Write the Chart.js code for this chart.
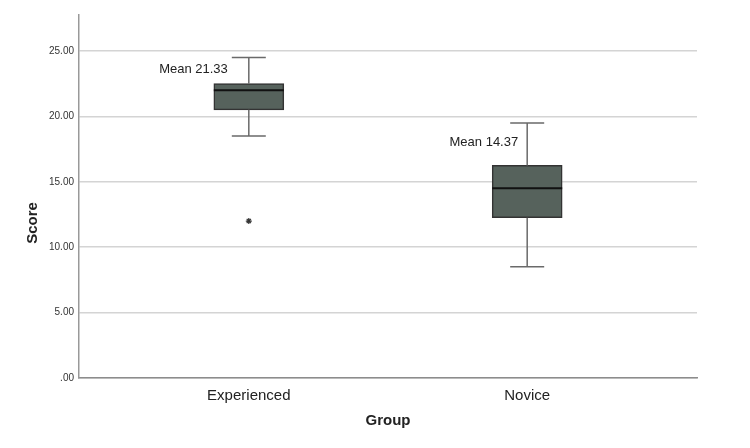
<!DOCTYPE html>
<html lang="en">
<head>
  <meta charset="UTF-8" />
  <title>Score by Group</title>
  <script src="https://cdn.jsdelivr.net/npm/chart.js"></script>
  <style>
    html, body { margin: 0; padding: 0; background: #fff; }
    #wrap { width: 750px; height: 448px; }
  </style>
</head>
<body>
  <div id="wrap"><canvas id="boxChart"></canvas></div>
  <script>
    // data
    const groups = ['Experienced', 'Novice'];
    const whiskerLow = [18.5, 8.5];
    const q1 = [20.5, 12.25];
    const medians = [22.0, 14.5];
    const q3 = [22.5, 16.25];
    const whiskerHigh = [24.5, 19.5];
    const means = [21.33, 14.37];
    const outliers = [{ group: 0, value: 12.0 }];
    const yTicks = [0, 5, 10, 15, 20, 25];

    const FONT = "'Liberation Sans', Arial, sans-serif";

    // whiskers, medians, mean labels and the y title
    const boxExtras = {
      id: 'boxExtras',
      afterDatasetsDraw(chart) {
        const ctx = chart.ctx;
        const xs = chart.scales.x, ys = chart.scales.y;
        const half = 35, cap = 17;
        const labelDx = [-21, -9], labelDy = [12, 20];
        ctx.save();
        groups.forEach((g, i) => {
          const cx = xs.getPixelForValue(i + 1);
          const yHi = ys.getPixelForValue(whiskerHigh[i]);
          const yLo = ys.getPixelForValue(whiskerLow[i]);
          const yQ1 = ys.getPixelForValue(q1[i]);
          const yQ3 = ys.getPixelForValue(q3[i]);
          const yMed = ys.getPixelForValue(medians[i]);

          ctx.strokeStyle = '#6a6a6a';
          ctx.lineWidth = 1.5;
          ctx.beginPath();
          ctx.moveTo(cx, yQ3); ctx.lineTo(cx, yHi);
          ctx.moveTo(cx - cap, yHi); ctx.lineTo(cx + cap, yHi);
          ctx.moveTo(cx, yQ1); ctx.lineTo(cx, yLo);
          ctx.moveTo(cx - cap, yLo); ctx.lineTo(cx + cap, yLo);
          ctx.stroke();

          ctx.strokeStyle = '#111';
          ctx.lineWidth = 2;
          ctx.beginPath();
          ctx.moveTo(cx - half, yMed); ctx.lineTo(cx + half, yMed);
          ctx.stroke();

          ctx.fillStyle = '#222';
          ctx.font = '13px ' + FONT;
          ctx.textAlign = 'right';
          ctx.textBaseline = 'middle';
          ctx.fillText('Mean ' + means[i].toFixed(2), cx + labelDx[i], yHi + labelDy[i]);
        });

        // y axis title, SPSS puts it a bit below the middle
        ctx.translate(33, 223);
        ctx.rotate(-Math.PI / 2);
        ctx.fillStyle = '#222';
        ctx.font = 'bold 15px ' + FONT;
        ctx.textAlign = 'center';
        ctx.textBaseline = 'middle';
        ctx.fillText('Score', 0, 0);
        ctx.restore();
      }
    };

    new Chart(document.getElementById('boxChart'), {
      type: 'bar',
      data: {
        datasets: [
          {
            type: 'bar',
            data: groups.map((g, i) => ({ x: i + 1, y: [q1[i], q3[i]] })),
            backgroundColor: '#56625c',
            borderColor: '#333',
            borderWidth: 1.5,
            borderSkipped: false,
            barThickness: 70
          },
          {
            type: 'scatter',
            data: outliers.map(o => ({ x: o.group + 1, y: o.value })),
            pointStyle: 'star',
            radius: 3,
            borderColor: '#333',
            borderWidth: 1.2,
            backgroundColor: '#333'
          }
        ]
      },
      options: {
        responsive: true,
        maintainAspectRatio: false,
        animation: false,
        layout: { padding: { top: 15, right: 53, left: 0, bottom: 14 } },
        plugins: {
          legend: { display: false },
          tooltip: { enabled: false }
        },
        scales: {
          x: {
            type: 'linear',
            offset: false,
            min: 0.39,
            max: 2.61,
            afterBuildTicks: s => { s.ticks = groups.map((g, i) => ({ value: i + 1 })); },
            afterFit: s => { s.height = 56; },
            grid: { display: false, drawTicks: false },
            border: { color: '#8c8c8c', width: 1.5 },
            ticks: {
              padding: 9,
              color: '#222',
              font: { family: FONT, size: 15 },
              callback: v => groups[v - 1]
            },
            title: {
              display: true,
              text: 'Group',
              color: '#222',
              font: { family: FONT, size: 15, weight: 'bold' }
            }
          },
          y: {
            min: 0,
            max: 27.75,
            afterBuildTicks: s => { s.ticks = yTicks.map(v => ({ value: v })); },
            afterFit: s => { s.width = 79; },
            grid: { color: '#d4d4d4', lineWidth: 1.5, drawTicks: false },
            border: { color: '#999', width: 1.5 },
            ticks: {
              padding: 5,
              color: '#333',
              font: { family: FONT, size: 10 },
              callback: v => v === 0 ? '.00' : v.toFixed(2)
            }
          }
        }
      },
      plugins: [boxExtras]
    });
  </script>
</body>
</html>
